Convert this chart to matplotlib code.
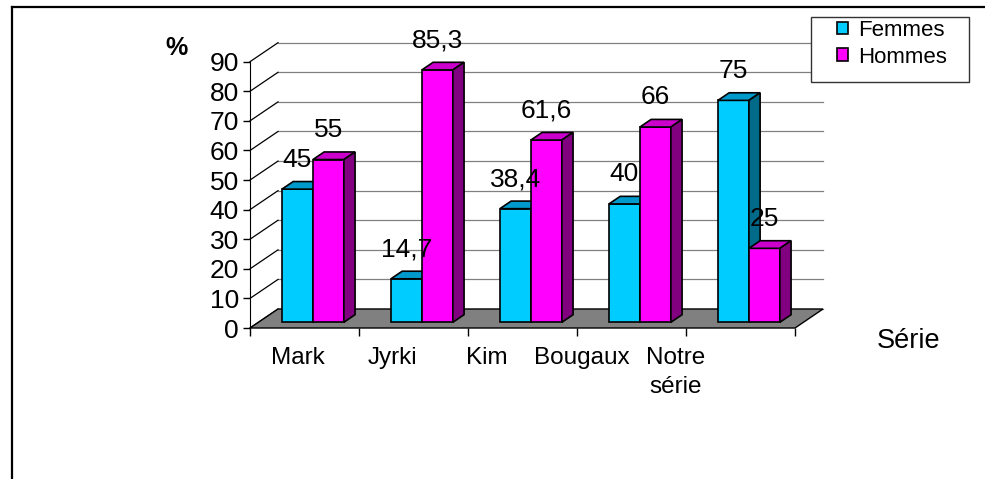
import matplotlib.pyplot as plt
from matplotlib.patches import Polygon, Rectangle
from matplotlib.lines import Line2D
import numpy as np

# data
categories = ['Mark', 'Jyrki', 'Kim', 'Bougaux', 'Notre\nsérie']
femmes = [45, 14.7, 38.4, 40, 75]
hommes = [55, 85.3, 61.6, 66, 25]
femmes_txt = ['45', '14,7', '38,4', '40', '75']
hommes_txt = ['55', '85,3', '61,6', '66', '25']
yticks = list(range(0, 100, 10))

plt.rcParams['font.family'] = ['Liberation Sans', 'DejaVu Sans']

W, H = 985, 479
fig = plt.figure(figsize=(W / 100, H / 100), dpi=100)
ax = fig.add_axes([250 / W, 151 / H, 545 / W, 266.3 / H])
n = len(categories)
ax.set_xlim(-0.5, n - 0.5)
ax.set_ylim(0, 90)

# fake 3d depth in data units
DX, DY = 0.257, 6.42
f0, f1 = 0.3, 0.7
bw = 0.284

# back wall grid + side wall diagonals
for v in yticks:
    ax.plot([-0.5 + DX, n - 0.5 + DX], [v + DY, v + DY], color='#808080', lw=0.9,
            clip_on=False, zorder=1)
    ax.plot([-0.5, -0.5 + DX], [v, v + DY], color='black', lw=0.9, clip_on=False, zorder=1)

# floor
floor = Polygon([(-0.5, 0), (n - 0.5, 0), (n - 0.5 + DX, DY), (-0.5 + DX, DY)],
                closed=True, facecolor='#808080', edgecolor='black', lw=1, clip_on=False, zorder=2)
ax.add_patch(floor)


def bar3d(x0, v, front, top, side):
    base = f0 * DY
    ddx, ddy = (f1 - f0) * DX, (f1 - f0) * DY
    x1 = x0 + bw
    ax.bar(x0, v, width=bw, bottom=base, align='edge', color=front, edgecolor='black',
           lw=1.2, clip_on=False, zorder=3)
    t = base + v
    ax.add_patch(Polygon([(x0, t), (x1, t), (x1 + ddx, t + ddy), (x0 + ddx, t + ddy)],
                         facecolor=top, edgecolor='black', lw=1.2, clip_on=False, zorder=3))
    ax.add_patch(Polygon([(x1, base), (x1, t), (x1 + ddx, t + ddy), (x1 + ddx, base + ddy)],
                         facecolor=side, edgecolor='black', lw=1.2, clip_on=False, zorder=3))


for i in range(n):
    xc = i + f0 * DX
    bar3d(xc - bw, femmes[i], '#00CCFF', '#0099CC', '#006A88')
    bar3d(xc, hommes[i], '#FF00FF', '#CC00CC', '#800080')
    ax.text(xc - bw / 2, f0 * DY + femmes[i] + 10, femmes_txt[i], ha='center', va='center',
            fontsize=19, zorder=5)
    ax.text(xc + bw / 2, f0 * DY + hommes[i] + 10, hommes_txt[i], ha='center', va='center',
            fontsize=19, zorder=5)

# axes
for s in ['top', 'right', 'bottom']:
    ax.spines[s].set_visible(False)
ax.spines['left'].set_color('black')
ax.spines['left'].set_zorder(4)
ax.set_yticks(yticks)
ax.tick_params(axis='y', direction='out', length=5, width=1, pad=3, labelsize=19)

# Excel squeezes the category labels leftward
label_x = -0.06 + 0.867 * np.arange(n)
ax.set_xticks(label_x)
ax.set_xticklabels(categories, fontsize=17.5, linespacing=1.45)
ax.set_xticks(np.arange(n + 1) - 0.5, minor=True)
ax.tick_params(axis='x', which='major', length=0, pad=13.5)
ax.tick_params(axis='x', which='minor', length=6, width=1, direction='out')

fig.text(176 / W, 1 - 48 / H, '%', fontsize=18, fontweight='bold', ha='center', va='center')
fig.text(909 / W, 1 - 341 / H, 'Série', fontsize=19.5, ha='center', va='center')

# legend
fig.add_artist(Rectangle((810.7 / W, 1 - 81.7 / H), 158.3 / W, 64.4 / H,
                         transform=fig.transFigure, facecolor='white', edgecolor='#333333', lw=1))
handles = [Rectangle((0, 0), 1, 1, facecolor='#00CCFF', edgecolor='black', lw=1.2),
           Rectangle((0, 0), 1, 1, facecolor='#FF00FF', edgecolor='black', lw=1.2)]
fig.legend(handles, ['Femmes', 'Hommes'], loc='upper left',
           bbox_to_anchor=(837 / W, 1 - 20 / H), frameon=False, fontsize=16,
           handlelength=0.5, handleheight=0.5, handletextpad=0.45, labelspacing=0.25,
           borderpad=0, borderaxespad=0)

# outer frame
fig.add_artist(Line2D([12 / W, 1], [1 - 7 / H, 1 - 7 / H], color='black', lw=1.6,
                      transform=fig.transFigure))
fig.add_artist(Line2D([12 / W, 12 / W], [0, 1 - 7 / H], color='black', lw=1.6,
                      transform=fig.transFigure))

fig.savefig('out.png', dpi=100)
